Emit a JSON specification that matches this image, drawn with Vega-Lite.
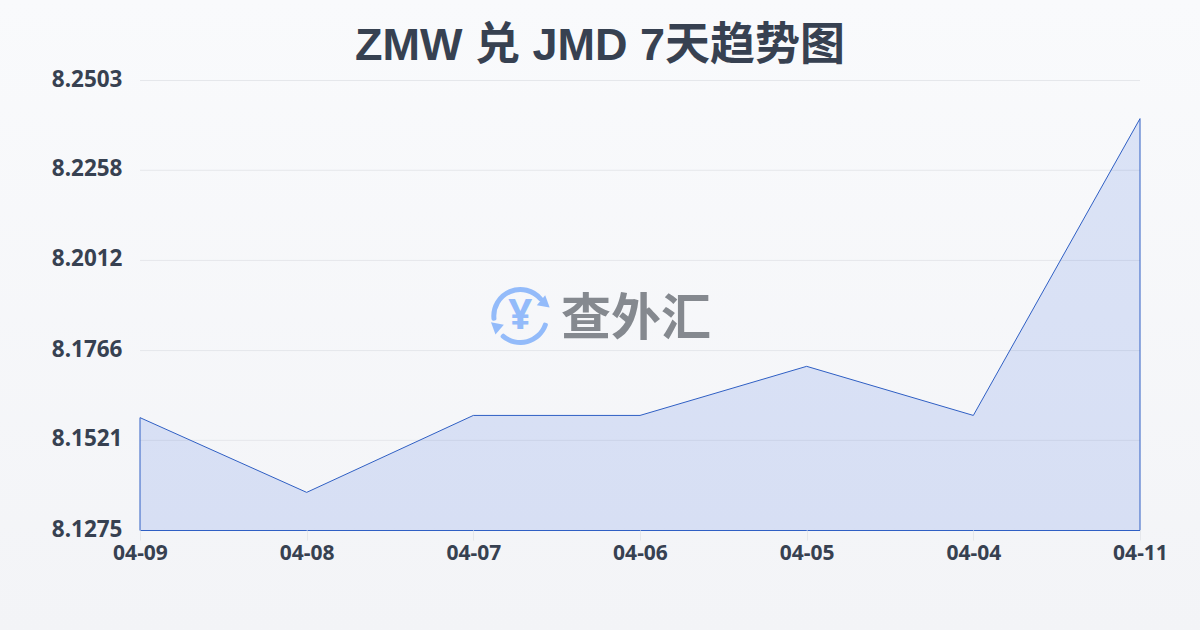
{"$schema":"https://vega.github.io/schema/vega-lite/v6.json","width":1000,"height":450,"autosize":"none","padding":{"left":140,"top":80,"right":60,"bottom":100},"background":"#f6f7f9","config":{"view":{"stroke":null}},"data":{"values":[{"date":"04-09","rate":8.1583},{"date":"04-08","rate":8.1379},{"date":"04-07","rate":8.1589},{"date":"04-06","rate":8.1589},{"date":"04-05","rate":8.1723},{"date":"04-04","rate":8.1589},{"date":"04-11","rate":8.2399}]},"encoding":{"x":{"field":"date","type":"ordinal","sort":null,"scale":{"type":"point","padding":0,"domain":["04-09","04-08","04-07","04-06","04-05","04-04","04-11"]},"axis":{"title":null,"zindex":1,"labelAngle":0,"labelFont":"Noto Sans","labelFontSize":21,"labelFontWeight":"bold","labelColor":"#374151","labelPadding":2,"tickColor":"#e5e7eb","tickSize":10,"domain":false,"grid":false}},"y":{"field":"rate","type":"quantitative","scale":{"domain":[8.1275,8.2503],"zero":false,"nice":false},"axis":{"title":null,"zindex":1,"values":[8.1275,8.1521,8.1766,8.2012,8.2258,8.2503],"format":".4f","labelFont":"Noto Sans","labelFontSize":22.5,"labelFontWeight":"bold","labelColor":"#374151","labelPadding":18,"labelOffset":-1,"ticks":false,"domain":false,"grid":false}}},"layer":[{"data":{"values":[{"date":"04-06","rate":8.1862}]},"mark":{"type":"rect","width":1200,"height":630,"xOffset":-40,"fill":{"gradient":"linear","x1":0,"y1":0,"x2":0,"y2":1,"stops":[{"offset":0,"color":"#f9fafc"},{"offset":1,"color":"#f3f4f7"}]}}},{"data":{"values":[{"rate":8.1521},{"rate":8.1766},{"rate":8.2012},{"rate":8.2258},{"rate":8.2503}]},"mark":{"type":"rule","color":"#e5e7eb","strokeWidth":1,"yOffset":0.5},"encoding":{"x":{"datum":"04-09"},"x2":{"datum":"04-11"}}},{"mark":{"type":"area","fill":"#3366dc","fillOpacity":0.15,"stroke":"#2f5fc4","strokeWidth":1,"yOffset":0.5,"y2Offset":0.5},"encoding":{"y2":{"datum":8.1275}}},{"data":{"values":[{"date":"04-06","rate":8.2599,"label":"ZMW 兑 JMD 7天趋势图"}]},"mark":{"type":"text","font":"Liberation Sans, Noto Sans CJK SC","fontSize":45,"fontWeight":"bold","color":"#374151","align":"center","baseline":"middle","dx":-40,"dy":1},"encoding":{"text":{"field":"label"}}},{"data":{"values":[{"date":"04-06","rate":8.1859,"label":"查外汇"}]},"mark":{"type":"text","font":"Noto Sans CJK SC","fontSize":50,"fontWeight":"bold","color":"#85898f","align":"center","baseline":"middle","dx":-4,"dy":4},"encoding":{"text":{"field":"label"}}},{"data":{"values":[{"date":"04-07","rate":8.1859,"label":"¥"}]},"mark":{"type":"text","font":"Noto Sans","fontSize":42,"fontWeight":"bold","color":"#93bbfa","align":"center","baseline":"middle","dx":47},"encoding":{"text":{"field":"label"}}},{"data":{"values":[{"date":"04-07","rate":8.1859}]},"mark":{"type":"arc","innerRadius":24,"outerRadius":29,"fill":"#93bbfa","xOffset":47,"cornerRadius":2,"theta":-1.75,"theta2":0.95}},{"data":{"values":[{"date":"04-07","rate":8.1859}]},"mark":{"type":"arc","innerRadius":24,"outerRadius":29,"fill":"#93bbfa","xOffset":47,"cornerRadius":2,"theta":1.83,"theta2":3.93}},{"data":{"values":[{"date":"04-07","rate":8.1859}]},"mark":{"type":"point","shape":"triangle-up","filled":true,"fill":"#93bbfa","opacity":1,"size":170,"angle":130,"xOffset":72,"yOffset":-12}},{"data":{"values":[{"date":"04-07","rate":8.1859}]},"mark":{"type":"point","shape":"triangle-up","filled":true,"fill":"#93bbfa","opacity":1,"size":170,"angle":310,"xOffset":22,"yOffset":10}}]}
